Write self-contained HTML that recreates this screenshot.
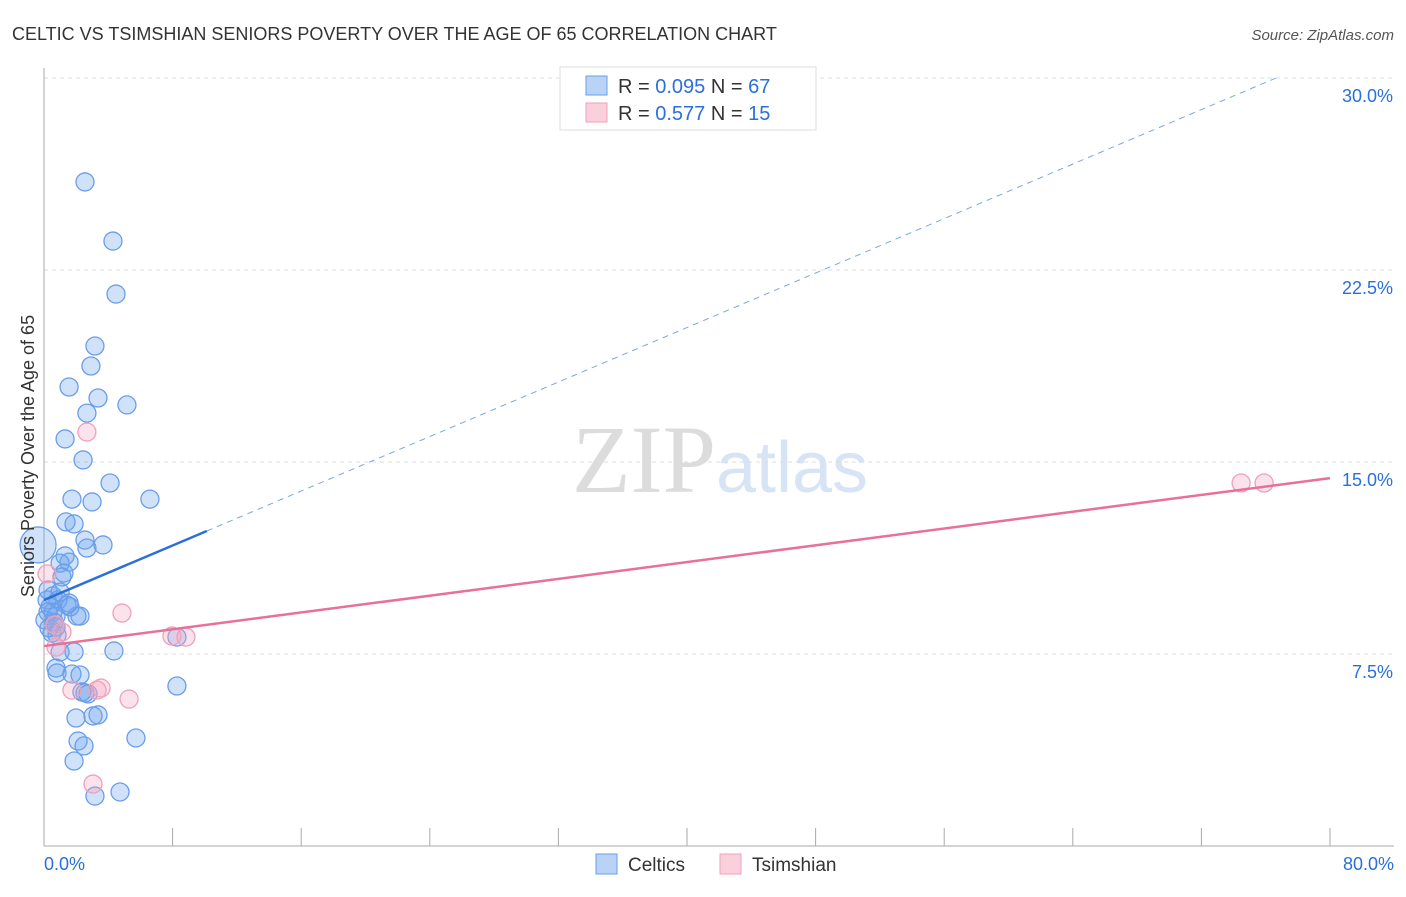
<!DOCTYPE html>
<html><head><meta charset="utf-8"><style>
body{margin:0;background:#fff;font-family:"Liberation Sans",sans-serif}
svg text{font-family:"Liberation Sans",sans-serif}
</style></head><body>
<svg id="chart" width="1406" height="892">
<text x="12" y="40" font-size="18" fill="#333">CELTIC VS TSIMSHIAN SENIORS POVERTY OVER THE AGE OF 65 CORRELATION CHART</text>
<text x="1394" y="40" font-size="15" fill="#555" font-style="italic" text-anchor="end">Source: ZipAtlas.com</text>
<text x="720" y="492" font-size="96" fill="#e4e4e4" text-anchor="middle" font-family="Liberation Serif"><tspan fill="#dcdcdc" font-family="Liberation Serif">ZIP</tspan><tspan fill="#d6e4f6" font-size="72" font-family="Liberation Sans">atlas</tspan></text>
<g id="grid"></g><g id="axes"></g><g id="pts"></g><g id="trend"></g>
<text x="34" y="456" font-size="18" fill="#333" text-anchor="middle" transform="rotate(-90 34 456)">Seniors Poverty Over the Age of 65</text>
<g>
<rect x="560" y="67" width="256" height="63" fill="#fff" stroke="#ddd"/>
<rect x="586" y="76" width="21" height="19" fill="#b9d3f7" stroke="#6a9ee8"/>
<text x="618" y="93" font-size="20" fill="#333">R = <tspan fill="#2a6fdb">0.095</tspan>   N = <tspan fill="#2a6fdb">67</tspan></text>
<rect x="586" y="103" width="21" height="19" fill="#fbd0dd" stroke="#f0a0b8"/>
<text x="618" y="120" font-size="20" fill="#333">R =  <tspan fill="#2a6fdb">0.577</tspan>    N =  <tspan fill="#2a6fdb">15</tspan></text>
</g>
<g>
<rect x="596" y="854" width="21" height="20" fill="#b9d3f7" stroke="#6a9ee8"/>
<text x="628" y="871" font-size="19" fill="#333">Celtics</text>
<rect x="720" y="854" width="21" height="20" fill="#fbd0dd" stroke="#f0a0b8"/>
<text x="752" y="871" font-size="19" fill="#333">Tsimshian</text>
</g>
</svg>
<script>
const yTicks=[7.5,15,22.5,30];
const yTickLabels=["7.5%","15.0%","22.5%","30.0%"];
const xTicks=[0,8,16,24,32,40,48,56,64,72,80];
const celticX=[2.55,4.29,4.48,3.17,2.92,1.56,3.36,5.16,2.67,1.31,2.43,4.11,1.74,2.99,6.59,1.37,1.87,2.55,2.67,3.67,1.31,1.56,1.00,1.12,1.24,0.56,0.87,1.43,1.56,0.37,0.56,2.24,2.05,0.62,0.75,0.50,0.81,0.75,1.00,1.87,4.35,0.75,0.81,1.74,2.24,2.36,2.55,2.74,8.27,8.27,1.99,3.05,3.36,2.12,2.49,5.72,1.87,3.17,4.73,1.62,0.19,0.25,0.06,0.25,0.31,1.00,-0.37];
const celticY=[25.94,23.63,21.56,19.53,18.75,17.93,17.50,17.23,16.91,15.90,15.08,14.18,13.55,13.44,13.55,12.66,12.58,11.95,11.64,11.76,11.33,11.09,11.05,10.51,10.66,9.77,9.61,9.41,9.49,9.34,9.14,8.98,8.98,8.75,8.55,8.32,8.24,8.98,7.58,7.58,7.62,6.95,6.76,6.72,6.68,6.02,5.98,5.94,8.16,6.25,5.00,5.08,5.12,4.10,3.91,4.22,3.32,1.95,2.11,9.34,9.61,9.14,8.83,10.00,8.52,9.92,11.76];
const celticR=[9,9,9,9,9,9,9,9,9,9,9,9,9,9,9,9,9,9,9,9,9,9,9,9,9,9,9,9,9,9,9,9,9,9,9,9,9,9,9,9,9,9,9,9,9,9,9,9,9,9,9,9,9,9,9,9,9,9,9,9,9,9,9,9,9,9,18];
const tsimX=[2.67,0.19,1.12,0.75,4.85,7.96,8.83,1.74,3.30,3.55,5.29,3.05,74.47,75.90,0.68];
const tsimY=[16.17,10.63,8.36,7.77,9.10,8.20,8.16,6.09,6.09,6.17,5.74,2.42,14.18,14.18,8.63];
const celticTrend=[9.61,30.0];const celticTrendX=[0,76.64];const celticSolidEnd=10.13;
const tsimTrend=[7.81,14.37];const tsimTrendX=[0,80];
const X=v=>44+v/80*1286, Y=v=>846-v/7.5*192;
const NS="http://www.w3.org/2000/svg";
function mk(p,t,a){const e=document.createElementNS(NS,t);for(const k in a)e.setAttribute(k,a[k]);p.appendChild(e);return e;}
const g=document.getElementById('grid'),ax=document.getElementById('axes'),pts=document.getElementById('pts'),tr=document.getElementById('trend');
yTicks.forEach((t,i)=>{const l=mk(g,'line',{x1:44,x2:1394,y1:Y(t),y2:Y(t),stroke:'#ddd','stroke-dasharray':'4 4'});


const tx=mk(g,'text',{x:1393,y:Y(t)+24,'font-size':18,fill:'#2a6fdb','text-anchor':'end'});tx.textContent=yTickLabels[i];

});
const yl=mk(ax,'line',{x1:44,x2:44,y1:68,y2:846,stroke:'#aaa'});


const xl=mk(ax,'line',{x1:44,x2:1394,y1:846,y2:846,stroke:'#aaa'});


xTicks.forEach(t=>{const l=mk(ax,'line',{x1:X(t),x2:X(t),y1:828,y2:846,stroke:'#aaa'});

});
const x0=mk(ax,'text',{x:44,y:870,'font-size':18,fill:'#2a6fdb'});x0.textContent='0.0%';


const x1=mk(ax,'text',{x:1394,y:870,'font-size':18,fill:'#2a6fdb','text-anchor':'end'});x1.textContent='80.0%';


celticX.forEach((v,i)=>{const c=mk(pts,'circle',{cx:X(v),cy:Y(celticY[i]),r:celticR[i],fill:'rgba(110,165,240,0.32)',stroke:'#6a9ee8','stroke-width':1.3});

});
tsimX.forEach((v,i)=>{const c=mk(pts,'circle',{cx:X(v),cy:Y(tsimY[i]),r:9,fill:'rgba(245,165,190,0.32)',stroke:'#f0a0b8','stroke-width':1.3});

});
const bY=x=>celticTrend[0]+(celticTrend[1]-celticTrend[0])*(x-celticTrendX[0])/(celticTrendX[1]-celticTrendX[0]);
const bs=mk(tr,'line',{x1:X(celticTrendX[0]),y1:Y(bY(celticTrendX[0])),x2:X(celticSolidEnd),y2:Y(bY(celticSolidEnd)),stroke:'#2a6fdb','stroke-width':2.5});


const bd=mk(tr,'line',{x1:X(celticSolidEnd),y1:Y(bY(celticSolidEnd)),x2:X(celticTrendX[1]),y2:Y(bY(celticTrendX[1])),stroke:'#7aa6e6','stroke-width':1,'stroke-dasharray':'6 5'});


const pl=mk(tr,'line',{x1:X(tsimTrendX[0]),y1:Y(tsimTrend[0]),x2:X(tsimTrendX[1]),y2:Y(tsimTrend[1]),stroke:'#e8709a','stroke-width':2.5});


</script>
</body></html>
